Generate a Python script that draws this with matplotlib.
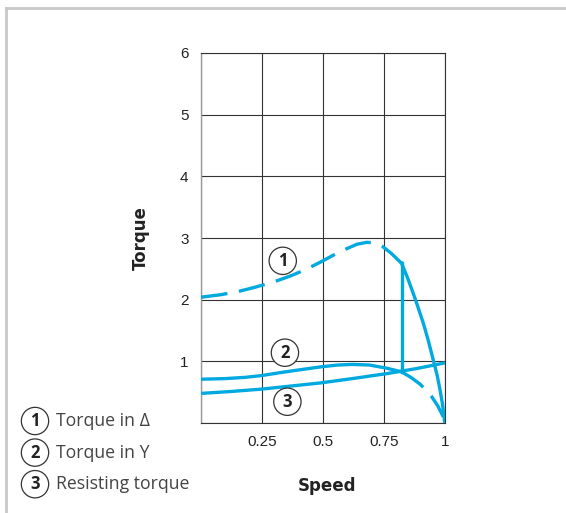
import numpy as np
import matplotlib
matplotlib.use('Agg')
from matplotlib import pyplot as plt
from matplotlib.lines import Line2D

# torque in delta (dashed up to the switch point, solid after)
delta_speed = [0, 0.08, 0.15, 0.22, 0.3, 0.37, 0.43, 0.49, 0.57, 0.64, 0.68, 0.71, 0.745, 0.78, 0.822]
delta_torque = [2.04, 2.08, 2.13, 2.2, 2.29, 2.39, 2.49, 2.61, 2.78, 2.9, 2.93, 2.92, 2.86, 2.75, 2.59]
delta_run_speed = [0.822, 0.845, 0.87, 0.89, 0.911, 0.932, 0.952, 0.968, 0.98, 0.99, 0.998]
delta_run_torque = [2.59, 2.37, 2.1, 1.87, 1.62, 1.33, 1.02, 0.77, 0.53, 0.3, 0.03]

# torque in Y (solid up to the switch point, dashed after)
y_speed = [0, 0.1, 0.18, 0.25, 0.33, 0.4, 0.49, 0.56, 0.62, 0.69, 0.76, 0.822]
y_torque = [0.71, 0.72, 0.74, 0.77, 0.82, 0.86, 0.91, 0.94, 0.95, 0.94, 0.89, 0.83]
y_rest_speed = [0.822, 0.86, 0.898, 0.92, 0.945, 0.97, 0.993]
y_rest_torque = [0.83, 0.74, 0.63, 0.54, 0.43, 0.28, 0.1]

# resisting torque
res_speed = [0, 0.12, 0.25, 0.37, 0.49, 0.62, 0.76, 0.88, 0.993]
res_torque = [0.48, 0.51, 0.55, 0.6, 0.65, 0.72, 0.8, 0.88, 0.97]

switch_speed = 0.822

xticks = [0, 0.25, 0.5, 0.75, 1]
xlabels = ['', '0.25', '0.5', '0.75', '1']
yticks = [0, 1, 2, 3, 4, 5, 6]
ylabels = ['', '1', '2', '3', '4', '5', '6']

legend_labels = ['Torque in \u0394', 'Torque in Y', 'Resisting torque']

blue = '#00a9e0'
W, H = 566, 513

fig = plt.figure(figsize=(W/100, H/100), dpi=100)
ax = fig.add_axes([201/W, 1-423/H, 244/W, 370/H])

lw = 2.4
ax.plot(delta_speed, delta_torque, color=blue, lw=lw, dashes=(8, 3.5), zorder=3)
ax.plot(delta_run_speed, delta_run_torque, color=blue, lw=lw, zorder=3,
        solid_joinstyle='round')
ax.plot(y_speed, y_torque, color=blue, lw=lw, zorder=3, solid_joinstyle='round')
ax.plot(y_rest_speed, y_rest_torque, color=blue, lw=lw, dashes=(8, 3.5), zorder=3)
ax.plot(res_speed, res_torque, color=blue, lw=lw, zorder=3, solid_joinstyle='round')
ax.plot([switch_speed, switch_speed], [y_torque[-1], delta_torque[-1]],
        color=blue, lw=lw, zorder=3)

ax.set_xlim(0, 1)
ax.set_ylim(0, 6)
ax.set_xticks(xticks)
ax.set_xticklabels(xlabels)
ax.set_yticks(yticks)
ax.set_yticklabels(ylabels)
ax.tick_params(length=0, pad=9, labelsize=11, labelcolor='#222')
for lab in ax.get_xticklabels() + ax.get_yticklabels():
    lab.set_family('Liberation Sans')
ax.grid(True, color='#333333', lw=0.8)
for s in ['top', 'bottom', 'right']:
    ax.spines[s].set_color('#333333')
    ax.spines[s].set_linewidth(0.8)
ax.spines['left'].set_color('#999999')
ax.spines['left'].set_linewidth(1.0)

ax.set_ylabel('Torque', fontsize=12, fontweight='bold', color='#222', family='DejaVu Sans')
ax.yaxis.set_label_coords(-(201-150)/244, (423-238)/370)
ax.set_xlabel('Speed', fontsize=12, fontweight='bold', color='#222', family='DejaVu Sans')
ax.xaxis.set_label_coords((327-201)/244, -(477-423)/370)

# circled markers on the curves
circ = dict(boxstyle='circle,pad=0.28', fc='white', ec='#333333', lw=0.9)
for num, (sx, ty) in zip(['1', '2', '3'], [(0.335, 2.63), (0.344, 1.14), (0.354, 0.345)]):
    ax.text(sx, ty, num, ha='center', va='center', fontsize=12, fontweight='bold',
            family='Open Sans', color='#222', bbox=circ, zorder=4)

# legend on the left
for i, lab in enumerate(legend_labels):
    yy = 1 - (421 + 31.6*i)/H
    fig.text(35/W, yy, str(i+1), ha='center', va='center', fontsize=12, fontweight='bold',
             family='Open Sans', color='#222', bbox=circ)
    fig.text(56/W, yy, lab, ha='left', va='center', fontsize=12.7,
             family='Open Sans', color='#444')

# gray frame
fig.add_artist(Line2D([6/W, 6/W], [0, 1-8/H], color='#c8c8c8', lw=2,
                      transform=fig.transFigure))
fig.add_artist(Line2D([6/W, 1], [1-8/H, 1-8/H], color='#c8c8c8', lw=2,
                      transform=fig.transFigure))

fig.savefig('out.png', dpi=100)
